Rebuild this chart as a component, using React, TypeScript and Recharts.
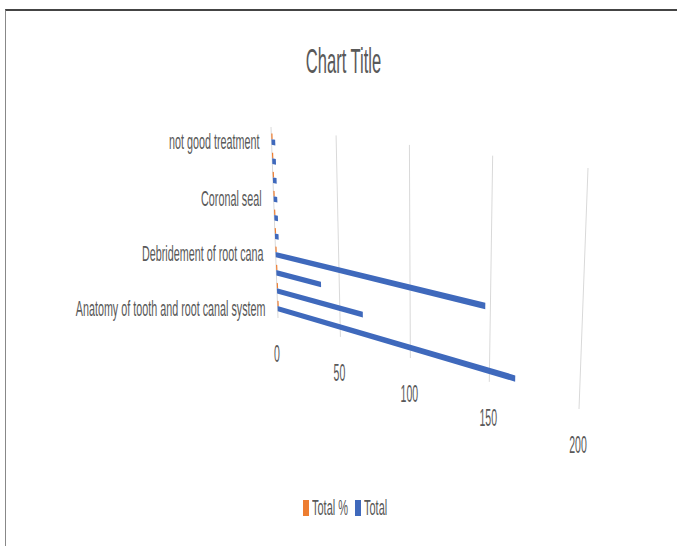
import { BarChart, Bar, XAxis, YAxis, CartesianGrid, Legend } from 'recharts';

const CATEGORIES = [
  'Anatomy of tooth and root canal system',
  '',
  '',
  'Debridement of root cana',
  '',
  '',
  'Coronal seal',
  '',
  '',
  'not good treatment',
];
const TOTAL = [165, 67, 36, 147, 3, 3, 3, 3, 3, 3];
const TOTAL_PERCENT = [1, 1, 1, 1, 1, 1, 1, 1, 1, 1];
const VALUE_TICKS = [0, 50, 100, 150, 200];

const chartData = CATEGORIES.map((name, i) => ({
  name,
  total: TOTAL[i],
  totalPercent: TOTAL_PERCENT[i],
}));

const WIDTH = 677;
const HEIGHT = 546;
const LEGEND_HEIGHT = 24;
// flat plot rectangle handed to recharts, projected afterwards onto the tilted floor
const PLOT = { left: 100, top: 100, width: 477, height: 346 };
const FLOOR = {
  topLeft: [271, 127],
  topRight: [588, 168],
  bottomRight: [579, 409],
  bottomLeft: [278, 318],
};

const FONT = '"Liberation Sans", sans-serif';
const TEXT_COLOR = '#595959';

// unit square -> quadrilateral homography
function buildProjection() {
  const [x0, y0] = FLOOR.topLeft;
  const [x1, y1] = FLOOR.topRight;
  const [x2, y2] = FLOOR.bottomRight;
  const [x3, y3] = FLOOR.bottomLeft;
  const dx1 = x1 - x2;
  const dx2 = x3 - x2;
  const sx = x0 - x1 + x2 - x3;
  const dy1 = y1 - y2;
  const dy2 = y3 - y2;
  const sy = y0 - y1 + y2 - y3;
  const det = dx1 * dy2 - dx2 * dy1;
  const g = (sx * dy2 - dx2 * sy) / det;
  const h = (dx1 * sy - sx * dy1) / det;
  const a = x1 - x0 + g * x1;
  const b = x3 - x0 + h * x3;
  const d = y1 - y0 + g * y1;
  const e = y3 - y0 + h * y3;
  return (px: number, py: number): [number, number] => {
    const u = (px - PLOT.left) / PLOT.width;
    const v = (py - PLOT.top) / PLOT.height;
    const w = g * u + h * v + 1;
    return [(a * u + b * v + x0) / w, (d * u + e * v + y0) / w];
  };
}
const project = buildProjection();

function SqueezedText({ x, y, size, squeeze, anchor = 'middle', children }: any) {
  return (
    <text
      transform={`translate(${x} ${y}) scale(${squeeze} 1)`}
      textAnchor={anchor}
      dominantBaseline="central"
      fontFamily={FONT}
      fontSize={size}
      fill={TEXT_COLOR}
    >
      {children}
    </text>
  );
}

function ProjectedBar({ x, y, width, height, fill }: any) {
  const corners = [
    project(x, y),
    project(x + width, y),
    project(x + width, y + height),
    project(x, y + height),
  ];
  return <path d={`M${corners.map((c) => c.join(' ')).join('L')}Z`} fill={fill} />;
}

function ProjectedGridLine({ x1, y1, x2, y2 }: any) {
  const [ax, ay] = project(x1, y1);
  const [bx, by] = project(x2, y2);
  return <line x1={ax} y1={ay} x2={bx} y2={by} stroke="#d9d9d9" strokeWidth={1} />;
}

function ValueTick({ x, payload }: any) {
  const [px, py] = project(x, PLOT.top + PLOT.height);
  return (
    <SqueezedText x={px - 1} y={py + 36} size={24} squeeze={0.44}>
      {payload.value}
    </SqueezedText>
  );
}

function CategoryTick({ y, payload }: any) {
  const [px, py] = project(PLOT.left, y);
  return (
    <SqueezedText x={px - 12} y={py + 2} size={22} squeeze={0.49} anchor="end">
      {payload.value}
    </SqueezedText>
  );
}

function LegendRow({ payload }: any) {
  return (
    <div
      style={{
        display: 'flex',
        justifyContent: 'center',
        alignItems: 'center',
        gap: 7,
        fontFamily: FONT,
        fontSize: 22,
        color: TEXT_COLOR,
        lineHeight: '24px',
      }}
    >
      {payload.map((item: any) => (
        <span key={item.value} style={{ display: 'inline-flex', alignItems: 'center' }}>
          <span style={{ width: 6, height: 16, background: item.color, marginRight: 3 }} />
          <span
            style={{
              display: 'inline-block',
              width: item.value.length * 5.2,
              whiteSpace: 'nowrap',
              transform: 'scaleX(0.5)',
              transformOrigin: 'left center',
            }}
          >
            {item.value}
          </span>
        </span>
      ))}
    </div>
  );
}

export default function App() {
  return (
    <div style={{ position: 'absolute', left: 0, top: 0, width: WIDTH, height: HEIGHT, background: '#fff' }}>
      <div
        style={{
          position: 'absolute',
          left: 5,
          top: 9,
          right: 0,
          bottom: 0,
          borderTop: '2px solid #444',
          borderLeft: '1px solid #888',
        }}
      />
      <BarChart
        width={WIDTH}
        height={HEIGHT}
        data={chartData}
        layout="vertical"
        barGap={0}
        barCategoryGap="21%"
        style={{ position: 'absolute', left: 0, top: 0 }}
        margin={{
          left: PLOT.left - 1,
          top: PLOT.top,
          right: WIDTH - PLOT.left - PLOT.width,
          bottom: HEIGHT - PLOT.top - PLOT.height - LEGEND_HEIGHT - 1,
        }}
      >
        <SqueezedText x={343.5} y={61} size={36} squeeze={0.46}>
          Chart Title
        </SqueezedText>
        <CartesianGrid horizontal={false} vertical={(props: any) => <ProjectedGridLine key={props.key} {...props} />} />
        <XAxis
          type="number"
          domain={[0, 200]}
          ticks={VALUE_TICKS}
          height={1}
          axisLine={false}
          tickLine={false}
          tick={<ValueTick />}
          interval={0}
        />
        <YAxis
          type="category"
          dataKey="name"
          reversed
          width={1}
          padding={{ top: 4, bottom: 6 }}
          axisLine={false}
          tickLine={false}
          interval={2}
          tick={<CategoryTick />}
        />
        <Bar dataKey="totalPercent" name="Total %" fill="#ED7D31" shape={<ProjectedBar />} isAnimationActive={false} />
        <Bar dataKey="total" name="Total" fill="#3F69BC" shape={<ProjectedBar />} isAnimationActive={false} />
        <Legend
          content={<LegendRow />}
          itemSorter={null}
          wrapperStyle={{ position: 'absolute', left: 0, top: 496, width: 693, height: LEGEND_HEIGHT }}
        />
      </BarChart>
    </div>
  );
}
